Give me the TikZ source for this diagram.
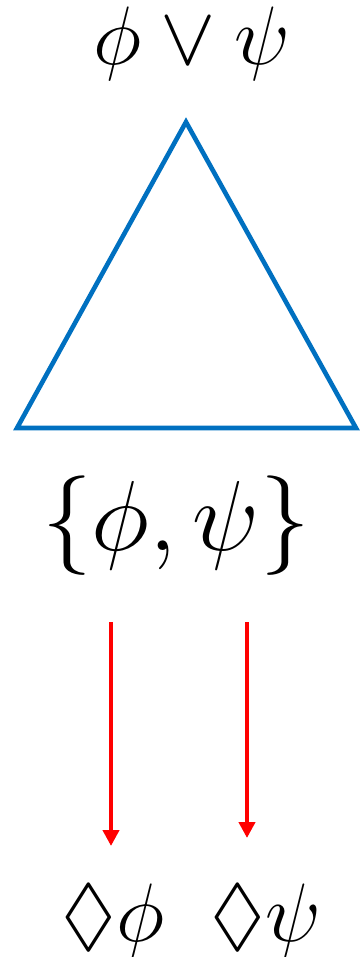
\documentclass[tikz,border=0pt]{standalone}
\usepackage{amssymb}
\usepackage{amsmath}
\usetikzlibrary{positioning, arrows.meta}
\definecolor{triblue}{HTML}{0070C0}

\begin{document}
\begin{tikzpicture}[x=0.25pt, y=-0.25pt,
  lbl/.style={anchor=base, inner sep=0pt, font=\fontsize{20.5}{24}\selectfont},
  biglbl/.style={anchor=base, inner sep=0pt, font=\fontsize{26.5}{30}\selectfont},
  tri/.style={draw=triblue, line width=1.15pt},
  arr/.style={draw=red, line width=1pt, -{Triangle[length=4pt, width=4pt]}}]
\useasboundingbox (0,0) rectangle (362,957);
\node[lbl] (top) at (192,64) {$\phi\vee\psi$};
\draw[tri] (186,122) -- (356,428) -- (17,428) -- cycle;
\node[biglbl] (set) at (176,550) {$\{\phi,\psi\}$};
\node[lbl] (dphi) at (113,941) {$\Diamond\phi$};
\node[lbl] (dpsi) at (266,941) {$\Diamond\psi$};
\coordinate (s1) at (111,622);
\coordinate (e1) at (111,846);
\coordinate (s2) at (247,622);
\coordinate (e2) at (247,838);
\draw[arr] (s1) -- (e1);
\draw[arr] (s2) -- (e2);
\end{tikzpicture}
\end{document}
